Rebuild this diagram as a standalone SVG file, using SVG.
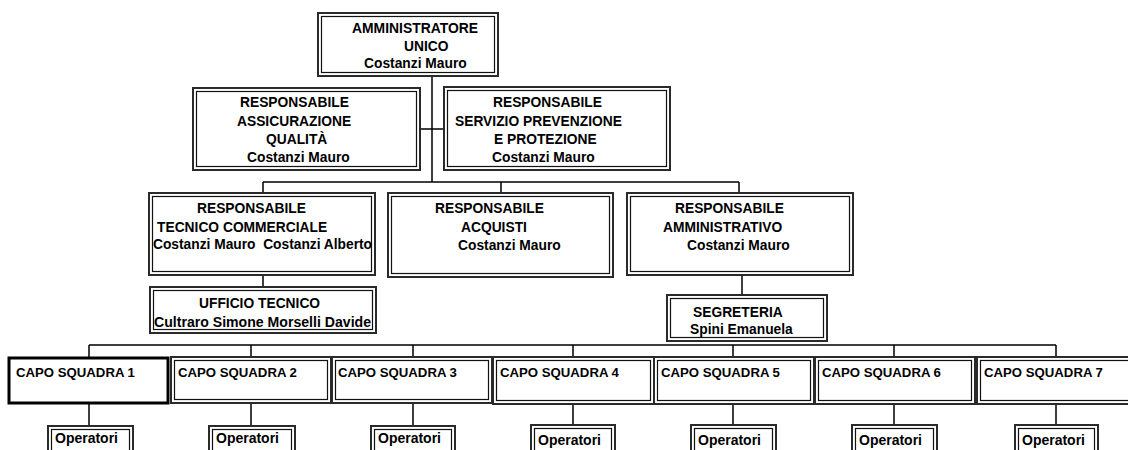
<svg xmlns="http://www.w3.org/2000/svg" width="1128" height="450" viewBox="0 0 1128 450">
<style>
.o{fill:#fff;stroke:#2a2a2a;stroke-width:2}
.i{fill:none;stroke:#111;stroke-width:1.2}
.thick{fill:#fff;stroke:#000;stroke-width:3}
.c{fill:none;stroke:#000;stroke-width:1.5}
text{font-family:"Liberation Sans",Arial,sans-serif;font-weight:bold;font-size:13.8px;fill:#000}
.cs{font-size:13.2px}
.op{font-size:14px}
</style>
<rect width="1128" height="450" fill="#fff"/>
<g id="connectors">
<path class="c" d="M432 77V182M420 129H444M263 182H739M263 182V193M501 182V193M739 182V193M263 275V287M742 275V295"/>
<path class="c" d="M89 345H1056M89 345V357M251 345V357M413 345V357M573 345V357M733 345V357M894 345V357M1056 345V357"/>
<path class="c" d="M89 403V426M251 403V426M413 403V426M573 403V425M733 403V425M894 403V425M1056 403V425"/>
</g>
<g id="n-amm">
<rect class="o" x="318" y="13" width="180" height="63"/><rect class="i" x="321.5" y="16.5" width="173" height="56"/>
<text x="352" y="33" textLength="126" lengthAdjust="spacingAndGlyphs">AMMINISTRATORE</text><text x="404" y="51">UNICO</text><text x="364" y="68">Costanzi Mauro</text>
</g>
<g id="n-qual">
<rect class="o" x="193" y="88" width="227" height="82"/><rect class="i" x="196.5" y="91.5" width="220" height="75"/>
<text x="240" y="107">RESPONSABILE</text><text x="237" y="126">ASSICURAZIONE</text><text x="266" y="144">QUALITÀ</text><text x="247" y="162">Costanzi Mauro</text>
</g>
<g id="n-prev">
<rect class="o" x="444" y="87" width="226" height="83"/><rect class="i" x="447.5" y="90.5" width="219" height="76"/>
<text x="493" y="107">RESPONSABILE</text><text x="455" y="126">SERVIZIO PREVENZIONE</text><text x="494" y="144">E PROTEZIONE</text><text x="492" y="162">Costanzi Mauro</text>
</g>
<g id="n-tec">
<rect class="o" x="149" y="193" width="226" height="82"/><rect class="i" x="152.5" y="196.5" width="219" height="75"/>
<text x="197" y="213">RESPONSABILE</text><text x="157" y="232">TECNICO COMMERCIALE</text><text x="153" y="249" textLength="219" lengthAdjust="spacingAndGlyphs">Costanzi Mauro&#160; Costanzi Alberto</text>
</g>
<g id="n-uff">
<rect class="o" x="150" y="287" width="226" height="46"/><rect class="i" x="153.5" y="290.5" width="219" height="39"/>
<text x="199" y="308">UFFICIO TECNICO</text><text x="154" y="327" textLength="217" lengthAdjust="spacingAndGlyphs">Cultraro Simone Morselli Davide</text>
</g>
<g id="n-acq">
<rect class="o" x="388" y="193" width="225" height="84"/><rect class="i" x="391.5" y="196.5" width="218" height="77"/>
<text x="435" y="213">RESPONSABILE</text><text x="461" y="232">ACQUISTI</text><text x="458" y="250">Costanzi Mauro</text>
</g>
<g id="n-adm">
<rect class="o" x="627" y="193" width="226" height="82"/><rect class="i" x="630.5" y="196.5" width="219" height="75"/>
<text x="675" y="213">RESPONSABILE</text><text x="663" y="232">AMMINISTRATIVO</text><text x="687" y="250">Costanzi Mauro</text>
</g>
<g id="n-seg">
<rect class="o" x="667" y="295" width="160" height="46"/><rect class="i" x="670.5" y="298.5" width="153" height="39"/>
<text x="693" y="317">SEGRETERIA</text><text x="690" y="334">Spini Emanuela</text>
</g>
<g id="n-cs1"><rect class="thick" x="9" y="358" width="159" height="45"/><text class="cs" x="16" y="377">CAPO SQUADRA 1</text></g>
<g id="n-cs2"><rect class="o" x="171" y="357" width="160" height="46"/><rect class="i" x="174.5" y="360.5" width="153" height="39"/><text class="cs" x="178" y="377">CAPO SQUADRA 2</text></g>
<g id="n-cs3"><rect class="o" x="332" y="357" width="160" height="46"/><rect class="i" x="335.5" y="360.5" width="153" height="39"/><text class="cs" x="338" y="377">CAPO SQUADRA 3</text></g>
<g id="n-cs4"><rect class="o" x="493" y="357" width="161" height="47"/><rect class="i" x="496.5" y="360.5" width="154" height="40"/><text class="cs" x="500" y="377">CAPO SQUADRA 4</text></g>
<g id="n-cs5"><rect class="o" x="654" y="357" width="160" height="47"/><rect class="i" x="657.5" y="360.5" width="153" height="40"/><text class="cs" x="661" y="377">CAPO SQUADRA 5</text></g>
<g id="n-cs6"><rect class="o" x="815" y="357" width="160" height="47"/><rect class="i" x="818.5" y="360.5" width="153" height="40"/><text class="cs" x="822" y="377">CAPO SQUADRA 6</text></g>
<g id="n-cs7"><rect class="o" x="977" y="357" width="160" height="47"/><rect class="i" x="980.5" y="360.5" width="153" height="40"/><text class="cs" x="984" y="377">CAPO SQUADRA 7</text></g>
<g id="n-op1"><rect class="o" x="48" y="426" width="85" height="34"/><rect class="i" x="51.5" y="429.5" width="78" height="27"/><text class="op" x="55" y="443">Operatori</text></g>
<g id="n-op2"><rect class="o" x="209" y="426" width="86" height="34"/><rect class="i" x="212.5" y="429.5" width="79" height="27"/><text class="op" x="216" y="443">Operatori</text></g>
<g id="n-op3"><rect class="o" x="371" y="426" width="84" height="34"/><rect class="i" x="374.5" y="429.5" width="77" height="27"/><text class="op" x="378" y="443">Operatori</text></g>
<g id="n-op4"><rect class="o" x="531" y="425" width="84" height="34"/><rect class="i" x="534.5" y="428.5" width="77" height="27"/><text class="op" x="538" y="445">Operatori</text></g>
<g id="n-op5"><rect class="o" x="691" y="425" width="85" height="34"/><rect class="i" x="694.5" y="428.5" width="78" height="27"/><text class="op" x="698" y="445">Operatori</text></g>
<g id="n-op6"><rect class="o" x="852" y="425" width="85" height="34"/><rect class="i" x="855.5" y="428.5" width="78" height="27"/><text class="op" x="859" y="445">Operatori</text></g>
<g id="n-op7"><rect class="o" x="1015" y="425" width="83" height="34"/><rect class="i" x="1018.5" y="428.5" width="76" height="27"/><text class="op" x="1022" y="445">Operatori</text></g>
</svg>
